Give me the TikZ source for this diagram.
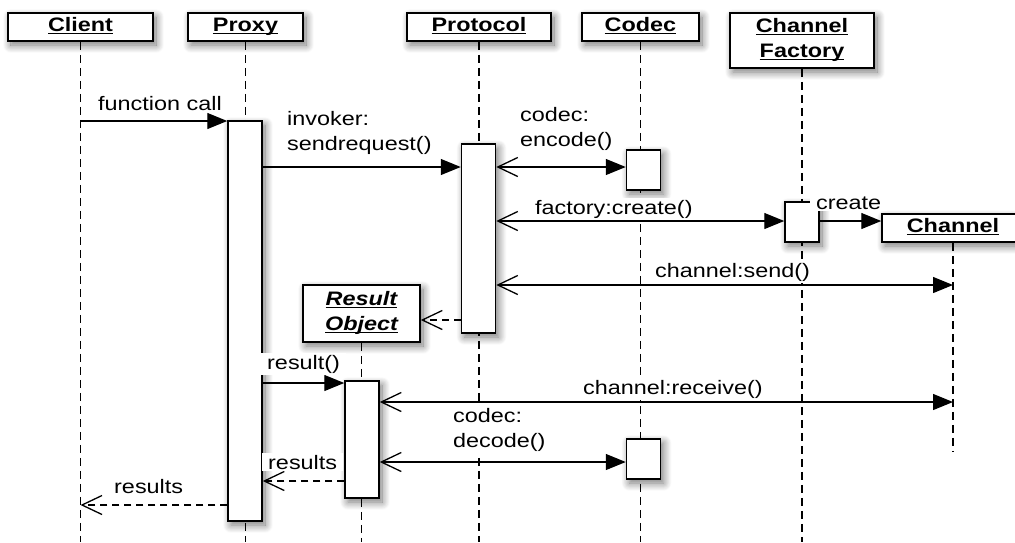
\documentclass[tikz,border=0pt]{standalone}
\usepackage{fontspec}
\setmainfont[FakeStretch=1.2]{Liberation Sans}
\usetikzlibrary{arrows.meta,shadows.blur}
\pgfdeclarelayer{background}
\pgfsetlayers{background,main}

% underlined head text; the rule sits just under the baseline, as in UML object names
\newcommand\objname[1]{\underline{\smash{#1}}\vphantom{Ag}}

\tikzset{
  txt/.style={font=\fontsize{19.5}{25}\selectfont},
  softshadow/.style={blur shadow={shadow xshift=3pt, shadow yshift=-4pt,
      shadow blur radius=8pt, shadow blur steps=14, shadow opacity=55}},
  head/.style={draw, line width=1.5pt, fill=white, inner sep=0pt, align=center,
      txt, font=\fontsize{19.5}{25}\selectfont\bfseries, softshadow},
  act/.style={draw, line width=1.5pt, fill=white, inner sep=0pt,
      minimum width=34pt, softshadow},
  life/.style={line width=1.3pt, dash pattern=on 8pt off 5pt},
  msg/.style={line width=1.3pt},
  filledtip/.style={-{Triangle[length=20pt,width=16pt]}},
  call/.style={msg, filledtip},
  sync/.style={msg, {Straight Barb[length=20pt,width=19pt,line width=1.3pt]}-{Triangle[length=20pt,width=16pt]}},
  ret/.style={msg, dash pattern=on 7pt off 5pt,
      -{Straight Barb[length=20pt,width=19pt,line width=1.3pt]}},
  lbl/.style={txt, fill=white, inner xsep=6pt, inner ysep=2pt, align=left},
}

\begin{document}
\begin{tikzpicture}[x=1pt,y=-1pt]
\useasboundingbox (0,0) rectangle (1015,542);

% lifeline heads
\node[head, minimum width=145pt, minimum height=28pt] (client) at (80.5,27) {\objname{Client}};
\node[head, minimum width=115pt, minimum height=28pt] (proxy) at (245.5,27) {\objname{Proxy}};
\node[head, minimum width=144pt, minimum height=28pt] (protocol) at (479,27) {\objname{Protocol}};
\node[head, minimum width=117pt, minimum height=28pt] (codec) at (640.5,27) {\objname{Codec}};
\node[head, minimum width=144pt, minimum height=55pt] (factory) at (802,40.5) {\objname{Channel}\\\objname{Factory}};
\node[head, minimum width=142pt, minimum height=28pt] (channel) at (953,228) {\objname{Channel}};
\node[head, minimum width=117pt, minimum height=57pt] (resobj) at (361.5,313.5) {\textit{\objname{Result}}\\\textit{\objname{Object}}};

% activation bars
\node[act, minimum height=400pt] (pact) at (245,321) {};
\node[act, minimum height=189pt] (protact) at (478.5,238.5) {};
\node[act, minimum height=40pt] (enc) at (643.5,170) {};
\node[act, minimum height=40pt] (cfact) at (802,222) {};
\node[act, minimum height=117pt] (ract) at (362,439.5) {};
\node[act, minimum height=40pt] (dec) at (643.5,459) {};

% message levels
\coordinate (bottom) at (0,542);
\coordinate (chanend) at (0,452);
\coordinate (m1) at (0,121);
\coordinate (m2) at (0,167);
\coordinate (m3) at (0,221);
\coordinate (m4) at (0,285);
\coordinate (m5) at (0,320);
\coordinate (m6) at (0,383);
\coordinate (m7) at (0,402);
\coordinate (m8) at (0,462);
\coordinate (m9) at (0,481);
\coordinate (m10) at (0,505);

% dashed lifelines
\begin{pgfonlayer}{background}
\draw[life] (client.south) -- (client.south |- bottom);
\draw[life] (proxy.south) -- (proxy.south |- bottom);
\draw[life] (protocol.south) -- (protocol.south |- bottom);
\draw[life] (codec.south) -- (codec.south |- bottom);
\draw[life] (factory.south) -- (factory.south |- bottom);
\draw[life] (channel.south) -- (channel.south |- chanend);
\draw[life] (resobj.south) -- (resobj.south |- bottom);
\end{pgfonlayer}

% messages
\draw[call] (client.south |- m1) -- (pact.west |- m1);
\draw[call] (pact.east |- m2) -- (protact.west |- m2);
\draw[sync] (protact.east |- m2) -- (enc.west |- m2);
\draw[sync] (protact.east |- m3) -- (cfact.west |- m3);
\draw[call] (cfact.east |- m3) -- (channel.west |- m3);
\draw[sync] (protact.east |- m4) -- (channel.south |- m4);
\draw[ret] (protact.west |- m5) -- (resobj.east |- m5);
\draw[call] (pact.east |- m6) -- (ract.west |- m6);
\draw[sync] (ract.east |- m7) -- (channel.south |- m7);
\draw[sync] (ract.east |- m8) -- (dec.west |- m8);
\draw[ret] (ract.west |- m9) -- (pact.east |- m9);
\draw[ret] (pact.west |- m10) -- (client.south |- m10);

% message labels
\node[lbl, anchor=base west] (l1) at (92,110) {function call};
\node[lbl, anchor=north west] (l2) at (281,109) {invoker:\\sendrequest()};
\node[lbl, anchor=north west] (l3) at (514,105) {codec:\\encode()};
\node[lbl, anchor=base west] (l4) at (529,214) {factory:create()};
\node[lbl, anchor=base west] (l5) at (810,209) {create};
\node[lbl, anchor=base west] (l6) at (649,277) {channel:send()};
\node[lbl, anchor=base west] (l7) at (261,369) {result()};
\node[lbl, anchor=base west] (l8) at (577,394) {channel:receive()};
\node[lbl, anchor=north west] (l9) at (447,406) {codec:\\decode()};
\node[lbl, anchor=base west] (l10) at (262,469) {results};
\node[lbl, anchor=base west] (l11) at (108,493) {results};
\end{tikzpicture}
\end{document}
